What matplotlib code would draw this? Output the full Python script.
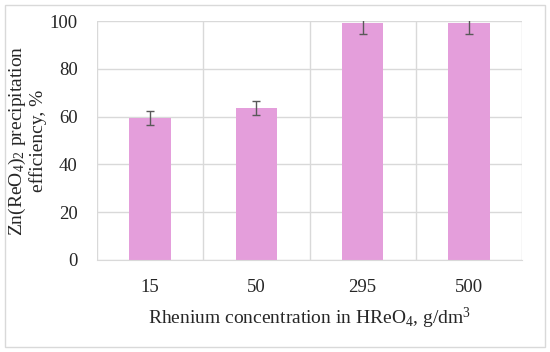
import matplotlib
matplotlib.use("Agg")
import matplotlib.pyplot as plt
import numpy as np
from matplotlib.patches import Rectangle

plt.rcParams["font.family"] = "Liberation Serif"
plt.rcParams["mathtext.fontset"] = "custom"
plt.rcParams["mathtext.rm"] = "Liberation Serif"
plt.rcParams["mathtext.it"] = "Liberation Serif:italic"

categories = ["15", "50", "295", "500"]
efficiency = [59.5, 63.5, 99.0, 99.0]
errors = [3.0, 3.0, 4.5, 4.5]

BAR_COLOR = "#E49EDB"
GRID_COLOR = "#D9D9D9"
TEXT_COLOR = "#262626"

fig = plt.figure(figsize=(5.5, 3.52), dpi=100)
ax = fig.add_axes([97 / 550, 1 - 260 / 352, 425 / 550, 239 / 352])

x = np.arange(len(categories))
ax.bar(x, efficiency, width=0.39, color=BAR_COLOR, zorder=2,
       yerr=errors, error_kw=dict(ecolor="#595959", elinewidth=1.0,
                                  capsize=3, capthick=1.0))

ax.set_xlim(-0.5, len(categories) - 0.5)
ax.set_ylim(0, 100)
ax.set_yticks(np.arange(0, 101, 20))
ax.set_xticks(x)
ax.set_xticklabels(categories)

# vertical grid at category boundaries
for b in np.arange(-0.5, len(categories), 1.0):
    ax.axvline(b, color=GRID_COLOR, linewidth=1.0, zorder=0)
ax.yaxis.grid(True, color=GRID_COLOR, linewidth=1.0, zorder=0)
ax.set_axisbelow(True)

for s in ax.spines.values():
    s.set_visible(False)
ax.spines["bottom"].set_visible(True)
ax.spines["bottom"].set_color(GRID_COLOR)

ax.tick_params(axis="both", length=0, labelsize=13.5, colors=TEXT_COLOR)
ax.tick_params(axis="y", pad=14)
ax.tick_params(axis="x", pad=14)

ax.set_ylabel("Zn(ReO$_4$)$_2$ precipitation\nefficiency, %", fontsize=14,
              color=TEXT_COLOR, linespacing=1.05)
ax.yaxis.set_label_coords(-0.118, 0.5)
ax.set_xlabel("Rhenium concentration in HReO$_4$, g/dm$^3$", fontsize=14,
              color=TEXT_COLOR, labelpad=7)

fig.patches.append(Rectangle((5 / 550, 5 / 352), 540 / 550, 342 / 352,
                             transform=fig.transFigure, fill=False,
                             edgecolor=GRID_COLOR, linewidth=1.0))

fig.savefig("out.png", dpi=100)
